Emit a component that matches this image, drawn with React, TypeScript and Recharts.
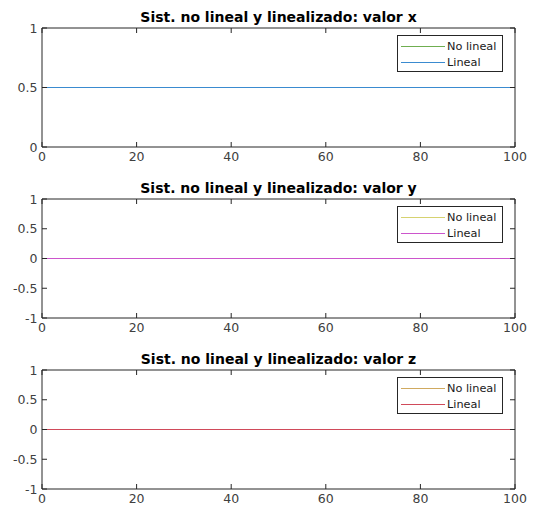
import React from 'react';
import { LineChart, Line, XAxis, YAxis } from 'recharts';

// Simulation time (s)
const time = [0, 25, 50, 75, 100];

// State x
const xNoLineal = [0.5, 0.5, 0.5, 0.5, 0.5];
const xLineal = [0.5, 0.5, 0.5, 0.5, 0.5];
// State y
const yNoLineal = [0, 0, 0, 0, 0];
const yLineal = [0, 0, 0, 0, 0];
// State z
const zNoLineal = [0, 0, 0, 0, 0];
const zLineal = [0, 0, 0, 0, 0];

const xTicks = [0, 20, 40, 60, 80, 100];
const yTicksX = [0, 0.5, 1];
const yTicksYZ = [-1, -0.5, 0, 0.5, 1];

const legendLabels = ['No lineal', 'Lineal'];

const AXIS = '#262626';
const LABEL = '#404040';
const FONT = '"DejaVu Sans", sans-serif';

const CHART_W = 533;
const CHART_H = 165;
const PLOT_LEFT = 42;
const PLOT_TOP = 28;
const PLOT_RIGHT_GAP = 18;
const X_AXIS_H = 18;
const TICK = 5;
const TICK_FONT = 12.5;

const BottomTick = (props: any) => {
  const { x, y, payload } = props;
  return (
    <g>
      <line x1={x} y1={y} x2={x} y2={y - TICK} stroke={AXIS} strokeWidth={1} />
      <text x={x} y={y + 13.5} textAnchor="middle" fill={LABEL} fontSize={TICK_FONT} fontFamily={FONT}>
        {payload.value}
      </text>
    </g>
  );
};

const TopTick = (props: any) => {
  const { x, y } = props;
  return <line x1={x} y1={y} x2={x} y2={y + TICK} stroke={AXIS} strokeWidth={1} />;
};

const LeftTick = (props: any) => {
  const { x, y, payload } = props;
  return (
    <g>
      <line x1={x} y1={y} x2={x + TICK} y2={y} stroke={AXIS} strokeWidth={1} />
      <text x={x - 4.5} y={y + 4.5} textAnchor="end" fill={LABEL} fontSize={TICK_FONT} fontFamily={FONT}>
        {payload.value}
      </text>
    </g>
  );
};

const RightTick = (props: any) => {
  const { x, y } = props;
  return <line x1={x} y1={y} x2={x - TICK} y2={y} stroke={AXIS} strokeWidth={1} />;
};

type PanelProps = {
  top: number;
  title: string;
  noLineal: number[];
  lineal: number[];
  colorNoLineal: string;
  colorLineal: string;
  yDomain: [number, number];
  yTicks: number[];
};

function Panel({ top, title, noLineal, lineal, colorNoLineal, colorLineal, yDomain, yTicks }: PanelProps) {
  const data = time.map((t, i) => ({ t, noLineal: noLineal[i], lineal: lineal[i] }));
  const colors = [colorNoLineal, colorLineal];
  return (
    <div style={{ position: 'absolute', left: 0, top, width: CHART_W, height: CHART_H }}>
      <div
        style={{
          position: 'absolute',
          left: PLOT_LEFT,
          top: 9,
          width: CHART_W - PLOT_LEFT - PLOT_RIGHT_GAP,
          textAlign: 'center',
          fontFamily: FONT,
          fontWeight: 'bold',
          fontSize: 14,
          lineHeight: '16px',
          color: '#000',
          whiteSpace: 'nowrap',
        }}
      >
        {title}
      </div>
      <LineChart
        width={CHART_W}
        height={CHART_H}
        data={data}
        margin={{ top: PLOT_TOP - 1, right: PLOT_RIGHT_GAP - 1, bottom: 0, left: 0 }}
      >
        <XAxis
          dataKey="t"
          type="number"
          domain={[0, 100]}
          ticks={xTicks}
          interval={0}
          height={X_AXIS_H}
          tickSize={0}
          tickMargin={0}
          tick={BottomTick}
          axisLine={{ stroke: AXIS }}
          tickLine={false}
          allowDataOverflow
        />
        <XAxis
          xAxisId="top"
          orientation="top"
          dataKey="t"
          type="number"
          domain={[0, 100]}
          ticks={xTicks}
          interval={0}
          height={1}
          tickSize={0}
          tickMargin={0}
          tick={TopTick}
          axisLine={{ stroke: AXIS }}
          tickLine={false}
          allowDataOverflow
        />
        <YAxis
          type="number"
          domain={yDomain}
          ticks={yTicks}
          interval={0}
          width={PLOT_LEFT}
          tickSize={0}
          tickMargin={0}
          tick={LeftTick}
          axisLine={{ stroke: AXIS }}
          tickLine={false}
          allowDataOverflow
        />
        <YAxis
          yAxisId="right"
          orientation="right"
          type="number"
          domain={yDomain}
          ticks={yTicks}
          interval={0}
          width={1}
          tickSize={0}
          tickMargin={0}
          tick={RightTick}
          axisLine={{ stroke: AXIS }}
          tickLine={false}
          allowDataOverflow
        />
        <Line
          dataKey="noLineal"
          stroke={colorNoLineal}
          strokeWidth={1.2}
          dot={false}
          isAnimationActive={false}
        />
        <Line
          dataKey="lineal"
          stroke={colorLineal}
          strokeWidth={1.2}
          dot={false}
          isAnimationActive={false}
        />
      </LineChart>
      <div
        style={{
          position: 'absolute',
          left: 397,
          top: PLOT_TOP + 7,
          width: 106,
          height: 37,
          boxSizing: 'border-box',
          border: `1px solid ${AXIS}`,
          background: '#fff',
          paddingTop: 3,
        }}
      >
        {legendLabels.map((label, i) => (
          <div key={label} style={{ display: 'flex', alignItems: 'center', height: 15.5 }}>
            <div style={{ width: 44, height: 1, background: colors[i], marginLeft: 3, marginRight: 2 }} />
            <span style={{ fontFamily: FONT, fontSize: 11.3, color: '#1a1a1a', lineHeight: '15px', whiteSpace: 'nowrap' }}>
              {label}
            </span>
          </div>
        ))}
      </div>
    </div>
  );
}

export default function App() {
  return (
    <div
      style={{
        position: 'absolute',
        left: 0,
        top: 0,
        width: CHART_W,
        height: 507,
        background: '#fff',
        overflow: 'hidden',
      }}
    >
      <Panel
        top={0}
        title="Sist. no lineal y linealizado: valor x"
        noLineal={xNoLineal}
        lineal={xLineal}
        colorNoLineal="#6fae50"
        colorLineal="#3a8bd0"
        yDomain={[0, 1]}
        yTicks={yTicksX}
      />
      <Panel
        top={171}
        title="Sist. no lineal y linealizado: valor y"
        noLineal={yNoLineal}
        lineal={yLineal}
        colorNoLineal="#d6d270"
        colorLineal="#cc55cc"
        yDomain={[-1, 1]}
        yTicks={yTicksYZ}
      />
      <Panel
        top={342}
        title="Sist. no lineal y linealizado: valor z"
        noLineal={zNoLineal}
        lineal={zLineal}
        colorNoLineal="#d0aa60"
        colorLineal="#d04a5a"
        yDomain={[-1, 1]}
        yTicks={yTicksYZ}
      />
    </div>
  );
}
